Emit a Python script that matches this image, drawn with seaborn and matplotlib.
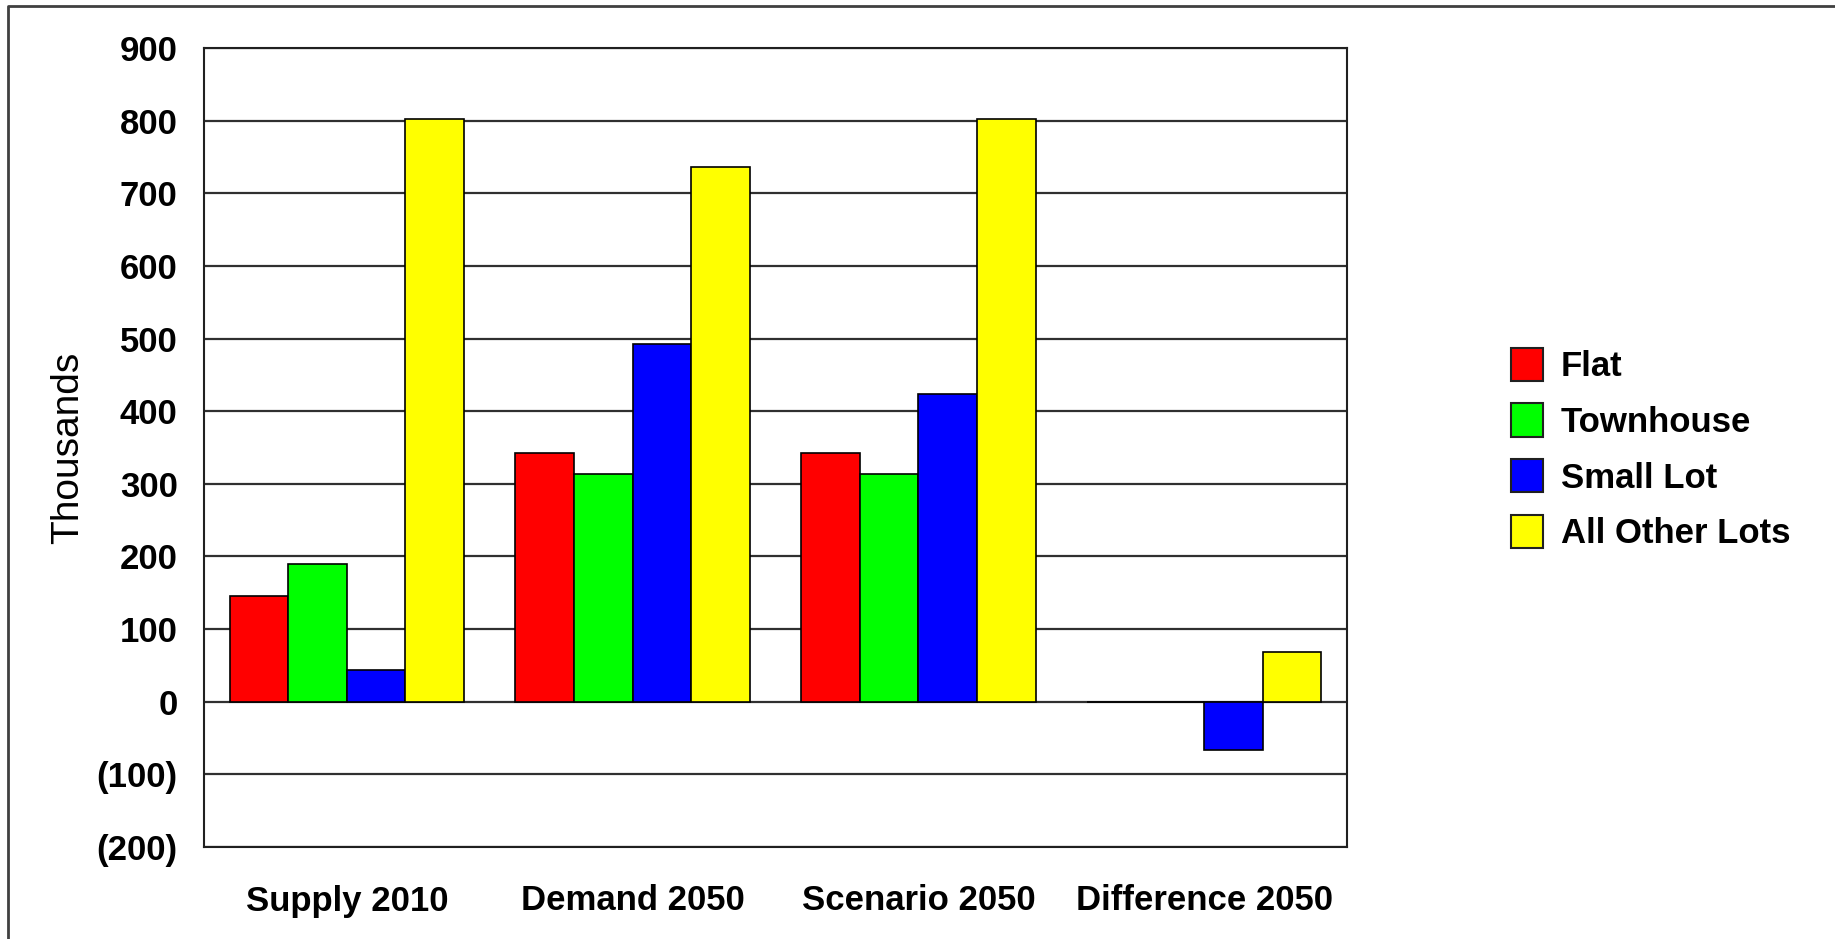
import matplotlib
matplotlib.use("Agg")
import matplotlib.pyplot as plt
from matplotlib.ticker import FuncFormatter, MultipleLocator
from matplotlib.lines import Line2D
import seaborn as sns
import pandas as pd

categories = ["Supply 2010", "Demand 2050", "Scenario 2050", "Difference 2050"]
series = ["Flat", "Townhouse", "Small Lot", "All Other Lots"]
flat = [146, 343, 343, 0]
townhouse = [190, 313, 313, 0]
small_lot = [43, 493, 423, -66]
all_other = [802, 736, 802, 68]
colors = ["#FF0000", "#00FF00", "#0000FF", "#FFFF00"]

rows = []
for s, vals in zip(series, [flat, townhouse, small_lot, all_other]):
    for c, v in zip(categories, vals):
        rows.append({"cat": c, "series": s, "value": v})
df = pd.DataFrame(rows)

sns.set_theme(style="white")
fam = ["Liberation Sans", "DejaVu Sans"]
plt.rcParams["font.family"] = fam

fig = plt.figure(figsize=(18.35, 9.39), dpi=100)
ax = fig.add_axes([204/1835, 1-847/939, (1347-204)/1835, (847-48)/939])

sns.barplot(data=df, x="cat", y="value", hue="series", order=categories,
            hue_order=series, palette=colors, width=0.82, gap=0,
            edgecolor="black", linewidth=1.2, saturation=1, ax=ax, legend=False,
            zorder=3)

ax.set_ylim(-200, 900)
ax.yaxis.set_major_locator(MultipleLocator(100))
ax.yaxis.set_major_formatter(FuncFormatter(lambda v, p: f"({abs(int(v))})" if v < 0 else f"{int(v)}"))
ax.grid(axis="y", color="#303030", linewidth=1.6, zorder=0)
ax.grid(axis="x", visible=False)
ax.set_axisbelow(True)
for sp in ax.spines.values():
    sp.set_color("#202020")
    sp.set_linewidth(1.5)
ax.tick_params(axis="both", length=0)
ax.tick_params(axis="y", pad=19)
ax.tick_params(axis="x", pad=27)
for lab in ax.get_yticklabels() + ax.get_xticklabels():
    lab.set_fontfamily(fam)
    lab.set_fontweight("bold")
    lab.set_fontsize(25)
    lab.set_color("black")
ax.set_xlabel("")
ax.set_ylabel("Thousands", fontsize=28, family=fam, color="black")
ax.yaxis.set_label_coords(-0.103, 0.5)

handles = [plt.Rectangle((0, 0), 1, 1, facecolor=c, edgecolor="#202020", linewidth=1.5) for c in colors]
leg = fig.legend(handles, series, loc="center left", bbox_to_anchor=(1494/1835, 1-449/939),
                 frameon=False, handlelength=0.92, handleheight=1.1, handletextpad=0.5,
                 labelspacing=0.58, borderpad=0, labelcolor="black",
                 prop={"family": fam, "weight": "bold", "size": 25})

# outer frame (top and left edges)
fig.add_artist(Line2D([8/1835, 8/1835, 1.0], [0.0, 1-6/939, 1-6/939],
                      transform=fig.transFigure, color="#404040", linewidth=2))

fig.savefig("out.png", dpi=100, facecolor="white")
